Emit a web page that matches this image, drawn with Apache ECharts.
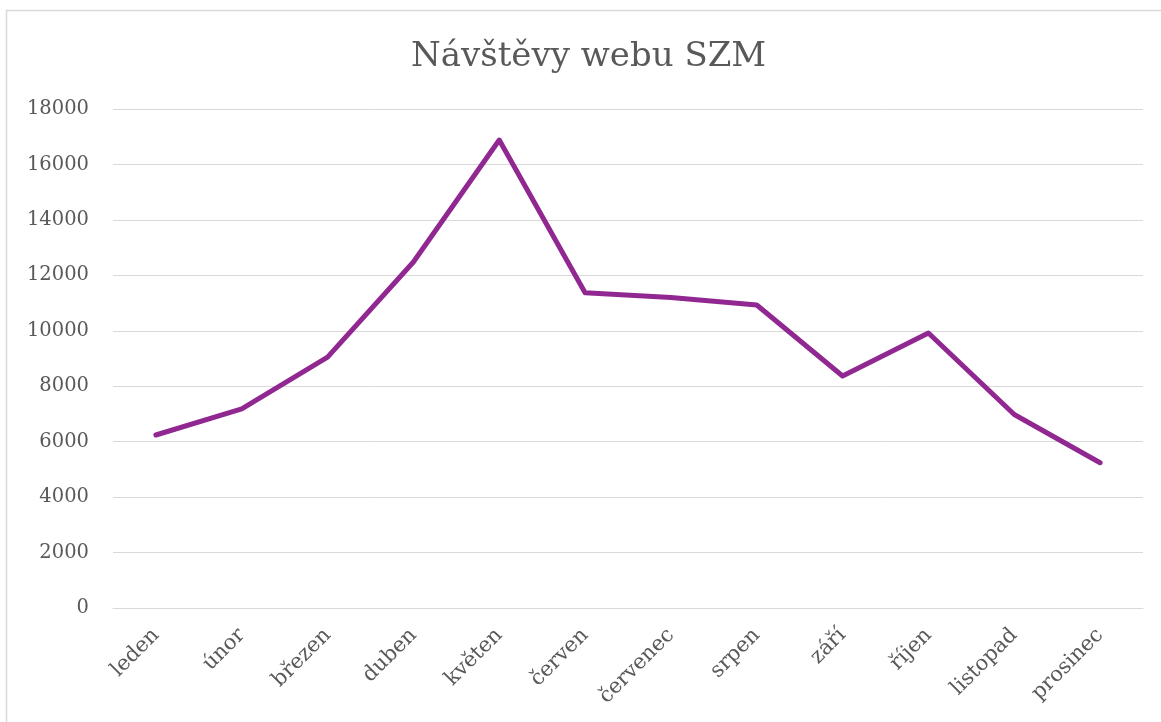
<!DOCTYPE html>
<html>
<head>
<meta charset="utf-8">
<script src="https://cdn.jsdelivr.net/npm/echarts@6/dist/echarts.min.js"></script>
<style>
html,body{margin:0;padding:0;background:#fff;}
#chart{width:1161px;height:722px;}
</style>
</head>
<body>
<div id="chart"></div>
<script>
const categories = ['leden','únor','březen','duben','květen','červen','červenec','srpen','září','říjen','listopad','prosinec'];
const visits = [6240, 7180, 9050, 12480, 16880, 11370, 11200, 10930, 8370, 9920, 6980, 5240];
const titleText = 'Návštěvy webu SZM';
const yMin = 0, yMax = 18000, yStep = 2000;

const FONT = '"DejaVu Serif", "Liberation Serif", serif';
const chart = echarts.init(document.getElementById('chart'), null, {renderer:'canvas'});
chart.setOption({
  animation: false,
  backgroundColor: '#ffffff',
  title: {
    text: titleText,
    left: 411,
    top: 40,
    padding: 0,
    textStyle: {fontFamily: FONT, fontSize: 34, fontWeight: 'normal', color: '#595959'}
  },
  grid: {left: 113, right: 18, top: 109, bottom: 114, containLabel: false},
  xAxis: {
    type: 'category',
    data: categories,
    boundaryGap: true,
    axisLine: {show: true, lineStyle: {color: '#d9d9d9', width: 1}},
    axisTick: {show: false},
    axisLabel: {rotate: 45, margin: 24, fontFamily: FONT, fontSize: 21, color: '#595959', interval: 0}
  },
  yAxis: {
    type: 'value',
    min: yMin, max: yMax, interval: yStep,
    axisLine: {show: false},
    axisTick: {show: false},
    splitLine: {lineStyle: {color: '#d9d9d9', width: 1}},
    axisLabel: {margin: 24, fontFamily: FONT, fontSize: 19.5, color: '#595959', formatter: v => String(v)}
  },
  graphic: [{
    type: 'rect',
    shape: {x: 6.5, y: 10.5, width: 1170, height: 730},
    style: {fill: 'none', stroke: '#d9d9d9', lineWidth: 1.5},
    silent: true
  }],
  series: [{
    type: 'line',
    data: visits,
    showSymbol: false,
    symbol: 'none',
    lineStyle: {color: '#912891', width: 5, cap: 'round', join: 'round'},
    itemStyle: {color: '#912891'}
  }]
});
</script>
</body>
</html>
